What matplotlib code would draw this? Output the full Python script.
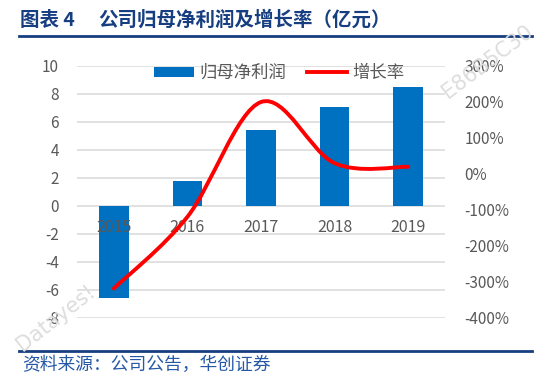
import numpy as np
import matplotlib
matplotlib.use('Agg')
import matplotlib.pyplot as plt
from matplotlib.path import Path
from matplotlib.patches import PathPatch, Patch
from matplotlib.lines import Line2D

plt.rcParams['font.family'] = ['Noto Sans CJK SC', 'DejaVu Sans']

years = ['2015', '2016', '2017', '2018', '2019']
profit = [-6.6, 1.8, 5.45, 7.05, 8.5]          # 归母净利润 (亿元)
growth = [-318, -119, 200, 30, 20]             # 增长率 (%)
left_ticks = [-8, -6, -4, -2, 0, 2, 4, 6, 8, 10]
right_ticks = [-400, -300, -200, -100, 0, 100, 200, 300]

bar_col = '#0070C0'
line_col = '#FF0000'
tick_col = '#595959'
navy = '#173E80'


def smooth_path(xs, ys):
  # excel-like smoothed line: catmull-rom turned into cubic beziers
  pts = list(zip(xs, ys))
  verts = [pts[0]]
  codes = [Path.MOVETO]
  n = len(pts)
  for i in range(n - 1):
    p0 = pts[i - 1] if i > 0 else pts[i]
    p1 = pts[i]
    p2 = pts[i + 1]
    p3 = pts[i + 2] if i + 2 < n else pts[i + 1]
    c1 = (p1[0] + (p2[0] - p0[0]) / 6, p1[1] + (p2[1] - p0[1]) / 6)
    c2 = (p2[0] - (p3[0] - p1[0]) / 6, p2[1] - (p3[1] - p1[1]) / 6)
    verts += [c1, c2, p2]
    codes += [Path.CURVE4] * 3
  return Path(verts, codes)


fig = plt.figure(figsize=(5.48, 3.84), dpi=100)
ax = fig.add_axes([77/548, 1 - 318/384, (445-77)/548, (318-66)/384])
x = np.arange(len(years))

ax.bar(x, profit, width=0.4, color=bar_col, zorder=2)
ax.set_xlim(-0.5, len(years) - 0.5)
ax.set_ylim(-8, 10)
ax.set_yticks(left_ticks)
ax.set_yticklabels([str(t) for t in left_ticks])
ax.grid(axis='y', color='#D9D9D9', linewidth=1.1)
ax.set_axisbelow(True)
ax.xaxis.set_zorder(5)   # year labels sit on top of the bars
ax.set_xticks(x)
ax.set_xticklabels(years)
ax.spines['bottom'].set_position(('data', 0))
for s in ax.spines.values():
  s.set_visible(False)
ax.tick_params(axis='y', length=0, pad=13, labelsize=11, labelcolor=tick_col)
ax.tick_params(axis='x', length=0, pad=9, labelsize=11.5, labelcolor=tick_col)

ax2 = ax.twinx()
ax2.set_ylim(-400, 300)
ax2.set_yticks(right_ticks)
ax2.set_yticklabels(['%d%%' % t for t in right_ticks])
for s in ax2.spines.values():
  s.set_visible(False)
ax2.tick_params(axis='y', length=0, pad=14, labelsize=11, labelcolor=tick_col)
ax2.add_patch(PathPatch(smooth_path(x, growth), facecolor='none', edgecolor=line_col,
                        linewidth=2.8, capstyle='round', zorder=3))

# legend
handles = [Patch(facecolor=bar_col, edgecolor='none'),
           Line2D([0], [0], color=line_col, linewidth=2.8)]
fig.legend(handles, ['归母净利润', '增长率'], loc='center', bbox_to_anchor=(279/548, 1 - 73/384),
           ncol=2, frameon=False, fontsize=12.5, labelcolor=tick_col, handlelength=2.3,
           handleheight=0.55, handletextpad=0.3, columnspacing=1.2, borderpad=0)

# title and rules
fig.text(20/548, 1 - 20/384, '图表 4', fontsize=14, fontweight='bold', color=navy,
         va='center', ha='left')
fig.text(98/548, 1 - 20/384, '公司归母净利润及增长率（亿元）', fontsize=14, fontweight='bold',
         color=navy, va='center', ha='left')
fig.add_artist(Line2D([19/548, 532/548], [1 - 36/384, 1 - 36/384], color=navy, linewidth=2))
fig.add_artist(Line2D([19/548, 532/548], [1 - 351/384, 1 - 351/384], color=navy, linewidth=2))
fig.text(22/548, 1 - 365/384, '资料来源：公司公告，华创证券', fontsize=12.8, style='italic',
         color='#2458A6', va='center', ha='left')

# watermarks
fig.text(56/548, 1 - 318/384, 'Datayes!', fontsize=15, color='#DDDDDD', rotation=38,
         ha='center', va='center', family='DejaVu Sans')
fig.text(488/548, 1 - 62/384, 'E86B5C30', fontsize=15, color='#DDDDDD', rotation=37,
         ha='center', va='center', family='DejaVu Sans')

fig.savefig('out.png', dpi=100)
